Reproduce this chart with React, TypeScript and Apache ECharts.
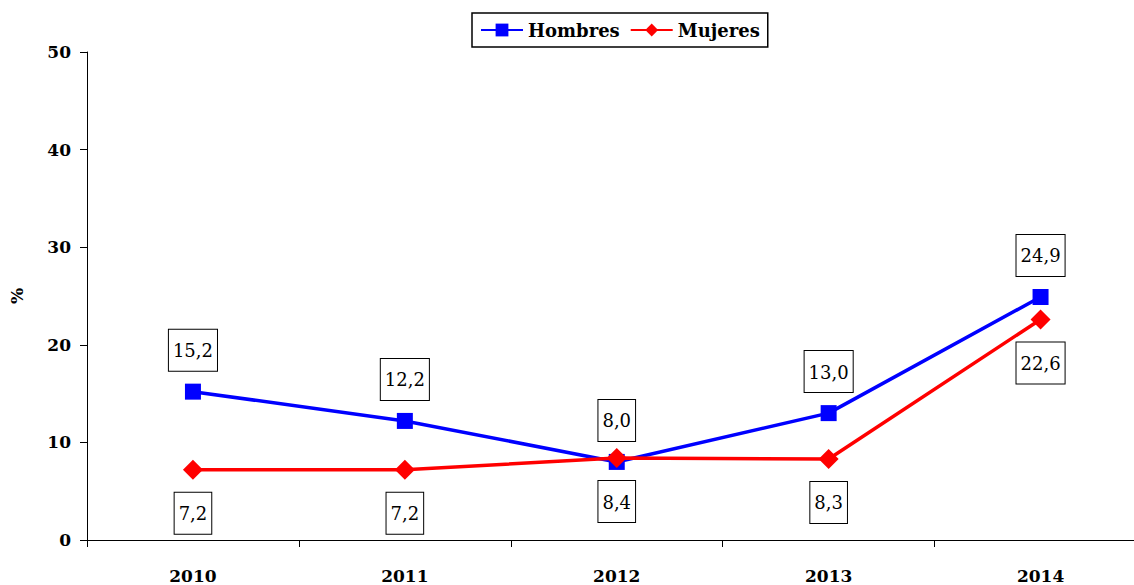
import React, { useEffect, useRef } from "react";
import * as echarts from "echarts";

const years = ["2010", "2011", "2012", "2013", "2014"];
const hombres = [15.2, 12.2, 8.0, 13.0, 24.9];
const mujeres = [7.2, 7.2, 8.4, 8.3, 22.6];

const fmt = (v: number) => v.toFixed(1).replace(".", ",");

export default function App() {
  const ref = useRef<HTMLDivElement>(null);
  useEffect(() => {
    if (!ref.current) return;
    const chart = echarts.init(ref.current, null, { renderer: "svg" });
    const font = "DejaVu Serif";
    const labelStyle = {
      show: true,
      fontFamily: font,
      fontSize: 18,
      color: "#000",
      borderColor: "#000",
      borderWidth: 1,
      backgroundColor: "#fff",
      padding: [12, 4, 11, 4],
      distance: 13,
      formatter: (p: any) => fmt(p.value),
    };
    chart.setOption({
      animation: false,
      textStyle: { fontFamily: font },
      legend: {
        top: 13,
        left: 472,
        data: ["Hombres", "Mujeres"],
        borderColor: "#000",
        borderWidth: 1.5,
        padding: [8, 8, 8, 8],
        itemWidth: 42,
        itemHeight: 16,
        itemGap: 10,
        textStyle: { fontFamily: font, fontWeight: "bold", fontSize: 18, color: "#000" },
      },
      grid: { left: 85, top: 52, width: 1061.5, bottom: 45, containLabel: false },
      xAxis: {
        type: "category",
        data: years,
        boundaryGap: true,
        axisLine: { lineStyle: { color: "#000", width: 1 } },
        axisTick: { show: true, length: 7, lineStyle: { color: "#000" } },
        axisLabel: { margin: 27, fontFamily: font, fontWeight: "bold", fontSize: 17, color: "#000" },
        splitLine: { show: false },
      },
      yAxis: {
        type: "value",
        min: 0,
        max: 50,
        interval: 10,
        name: "%",
        nameLocation: "middle",
        nameGap: 62,
        nameRotate: 90,
        nameTextStyle: { fontFamily: font, fontWeight: "bold", fontSize: 17, color: "#000" },
        axisLine: { show: true, lineStyle: { color: "#000", width: 1 } },
        axisTick: { show: true, length: 7, lineStyle: { color: "#000" } },
        axisLabel: { margin: 16, fontFamily: font, fontWeight: "bold", fontSize: 17, color: "#000" },
        splitLine: { show: false },
      },
      series: [
        {
          name: "Hombres",
          type: "line",
          data: hombres,
          symbol: "rect",
          symbolSize: 16,
          lineStyle: { color: "#0000ff", width: 3.5 },
          itemStyle: { color: "#0000ff" },
          label: { ...labelStyle, position: "top" },
          z: 2,
        },
        {
          name: "Mujeres",
          type: "line",
          data: mujeres,
          symbol: "diamond",
          symbolSize: 20,
          lineStyle: { color: "#ff0000", width: 3.5 },
          itemStyle: { color: "#ff0000" },
          label: { ...labelStyle, position: "bottom" },
          z: 3,
        },
      ],
    });
    return () => chart.dispose();
  }, []);
  return (
    <div style={{ width: 1134, height: 585, position: "absolute", left: 0, top: 0, overflow: "hidden" }}>
      <div ref={ref} style={{ width: 1150, height: 585 }} />
    </div>
  );
}
